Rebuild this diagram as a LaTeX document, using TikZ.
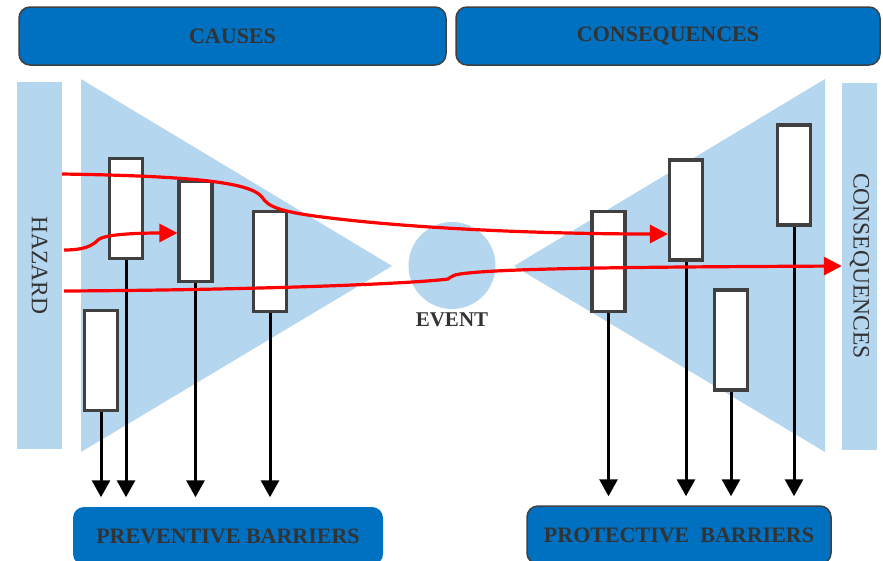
\documentclass[tikz,border=0pt]{standalone}
\usepackage{fontspec}
\setmainfont{Liberation Serif}
\usetikzlibrary{arrows.meta,positioning,shapes}

\definecolor{barblue}{HTML}{0070C0}
\definecolor{paleblue}{HTML}{B4D6EE}
\definecolor{edgegray}{HTML}{404040}
\definecolor{textgray}{HTML}{333333}

\begin{document}
\begin{tikzpicture}[
    x=1pt, y=-1pt,
    topbox/.style={rectangle, draw=edgegray, line width=1.5pt, rounded corners=11pt, fill=barblue, minimum height=58pt, text=textgray, font=\fontsize{22}{24}\selectfont\bfseries},
    sidebar/.style={rectangle, fill=paleblue, minimum width=45pt, minimum height=367pt, text=textgray, font=\fontsize{23.5}{25}\selectfont},
    barrier/.style={rectangle, draw=edgegray, line width=3.2pt, fill=white, minimum width=33pt, minimum height=100pt},
    drop/.style={-{Triangle[length=17pt,width=18pt]}, line width=3pt, shorten >=9pt},
    redflow/.style={-{Triangle[length=18pt,width=18pt]}, red, line width=3.2pt}
]
\useasboundingbox (0,0) rectangle (883,560);

% bow-tie wings
\fill[paleblue] (81,79) -- (81,452) -- (392,266) -- cycle;
\fill[paleblue] (825,79) -- (825,452) -- (514,266) -- cycle;

% headers
\node[topbox, minimum width=427pt] (causes) at (232.5,36) {CAUSES};
\node[topbox, minimum width=424pt] (conseq) at (668,36) {CONSEQUENCES};

% side bars
\node[sidebar] (hazard) at (39.5,265.5) {\rotatebox{-90}{HAZARD}};
\node[sidebar, minimum width=35pt] (conbar) at (859.5,266) {\rotatebox{-90}{CONSEQUENCES}};

% top event
\node[circle, fill=paleblue, minimum size=87pt,
      label={[font=\fontsize{21}{23}\selectfont\bfseries, text=textgray, label distance=0pt]below:EVENT}] (event) at (452,265.5) {};

% preventive barriers
\node[barrier] (b1) at (126,208.5) {};
\node[barrier] (b2) at (195.5,231.5) {};
\node[barrier] (b3) at (270,261.5) {};
\node[barrier] (b4) at (101,360.5) {};

% protective barriers
\node[barrier] (r1) at (608.5,261.5) {};
\node[barrier] (r2) at (686,210) {};
\node[barrier] (r3) at (731,340) {};
\node[barrier] (r4) at (794,175) {};

% barrier groups
\node[topbox, draw=none, minimum width=310pt] (prev) at (228,536) {PREVENTIVE BARRIERS};
\node[topbox, minimum width=304pt] (prot) at (679,535) {PROTECTIVE\ \ BARRIERS};

\foreach \b in {b1,b2,b3,b4}
    \draw[drop] (\b.south) -- (\b.south |- prev.north);
\foreach \b in {r1,r2,r3,r4}
    \draw[drop] (\b.south) -- (\b.south |- prot.north);

% threat lines
\coordinate (hzA) at (62,174);
\coordinate (hzB) at (64,250);
\coordinate (hzC) at (64,291);

\draw[redflow] (hzA) .. controls (190,176) and (250,182) .. (262,197)
    .. controls (268,207) and (280,212) .. (330,218)
    .. controls (430,230) and (560,234) .. ([yshift=-24pt]r2.west);
\draw[redflow] (hzB) .. controls (84,250) and (92,246) .. (98,240)
    .. controls (104,234) and (140,233) .. ([yshift=-1.5pt]b2.west);
\draw[redflow] (hzC) .. controls (250,290) and (410,284) .. (448,279)
    .. controls (452,276) and (454,275) .. (460,274)
    .. controls (500,268) and (650,267) .. (conbar.west);
\end{tikzpicture}
\end{document}
